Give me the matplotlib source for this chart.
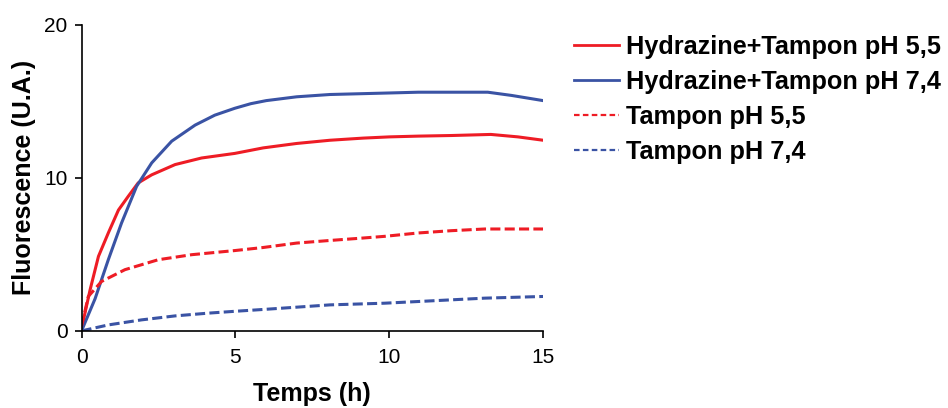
import matplotlib
matplotlib.use("Agg")
import matplotlib.pyplot as plt

plt.rcParams['font.family'] = ['Liberation Sans', 'DejaVu Sans']

# Data
t_hyd55 = [0, 0.06, 0.28, 0.55, 0.87, 1.2, 1.52, 1.84, 2.28, 3.04, 3.9, 4.98, 5.9, 6.99, 8.07, 9.15, 10.0, 10.94, 12.02, 13.3, 14.18, 15.0]
v_hyd55 = [0.2, 0.7, 2.7, 4.87, 6.4, 7.9, 8.8, 9.67, 10.2, 10.87, 11.3, 11.6, 11.96, 12.25, 12.46, 12.6, 12.68, 12.73, 12.77, 12.84, 12.68, 12.46]

t_hyd74 = [0, 0.44, 0.87, 1.3, 1.79, 2.28, 2.93, 3.69, 4.33, 4.98, 5.5, 6.0, 6.99, 8.07, 10.0, 10.94, 12.02, 13.2, 13.97, 15.0]
v_hyd74 = [0, 2.1, 4.65, 7.05, 9.45, 10.98, 12.4, 13.45, 14.1, 14.55, 14.85, 15.05, 15.3, 15.45, 15.55, 15.6, 15.6, 15.6, 15.39, 15.05]

t_tam55 = [0, 0.22, 0.65, 1.41, 2.49, 3.58, 4.98, 5.9, 6.99, 8.07, 9.15, 9.85, 10.94, 12.02, 13.1, 15.0]
v_tam55 = [0.3, 2.25, 3.23, 4.0, 4.65, 4.98, 5.25, 5.45, 5.74, 5.91, 6.07, 6.18, 6.4, 6.55, 6.66, 6.66]

t_tam74 = [0, 0.87, 1.95, 3.04, 4.12, 4.98, 5.9, 6.99, 8.07, 9.85, 10.94, 12.02, 13.1, 15.0]
v_tam74 = [0, 0.39, 0.72, 0.98, 1.16, 1.28, 1.4, 1.55, 1.7, 1.81, 1.92, 2.03, 2.14, 2.25]

labels = ["Hydrazine+Tampon pH 5,5", "Hydrazine+Tampon pH 7,4", "Tampon pH 5,5", "Tampon pH 7,4"]
x_ticks = [0, 5, 10, 15]
y_ticks = [0, 10, 20]

RED = "#EE1C25"
BLUE = "#3A53A4"

fig = plt.figure(figsize=(9.48, 4.08), dpi=100)
ax = fig.add_axes([0.086, 0.189, 0.487, 0.750])

lw = 2.2
dash = (0, (3.3, 1.4))
ax.plot(t_hyd55, v_hyd55, color=RED, lw=lw, label=labels[0])
ax.plot(t_hyd74, v_hyd74, color=BLUE, lw=lw, label=labels[1])
ax.plot(t_tam55, v_tam55, color=RED, lw=lw, ls=dash, label=labels[2])
ax.plot(t_tam74, v_tam74, color=BLUE, lw=lw, ls=dash, label=labels[3])

ax.set_xlim(0, 15)
ax.set_ylim(0, 20)
ax.set_xticks(x_ticks)
ax.set_yticks(y_ticks)
for s in ['top', 'right']:
    ax.spines[s].set_visible(False)
for s in ['left', 'bottom']:
    ax.spines[s].set_linewidth(1.2)
ax.tick_params(axis='both', direction='out', length=5, width=1.2, labelsize=15)
ax.tick_params(axis='x', pad=7)
ax.tick_params(axis='y', pad=5)

ax.set_xlabel("Temps (h)", fontsize=18, fontweight='bold', labelpad=11)
ax.set_ylabel("Fluorescence (U.A.)", fontsize=18, fontweight='bold', labelpad=6)

leg = fig.legend(loc='upper left', bbox_to_anchor=(0.606, 0.915), frameon=False,
                 prop={'weight': 'bold', 'size': 18.2}, handlelength=1.75,
                 handletextpad=0.3, labelspacing=0.44, borderpad=0, borderaxespad=0)
for i, line in enumerate(leg.get_lines()):
    if i < 2:
        line.set_linewidth(2.0)
    else:
        line.set_linewidth(1.6)
        line.set_linestyle((0, (2.5, 1.5)))

fig.savefig("out.png", dpi=100)
